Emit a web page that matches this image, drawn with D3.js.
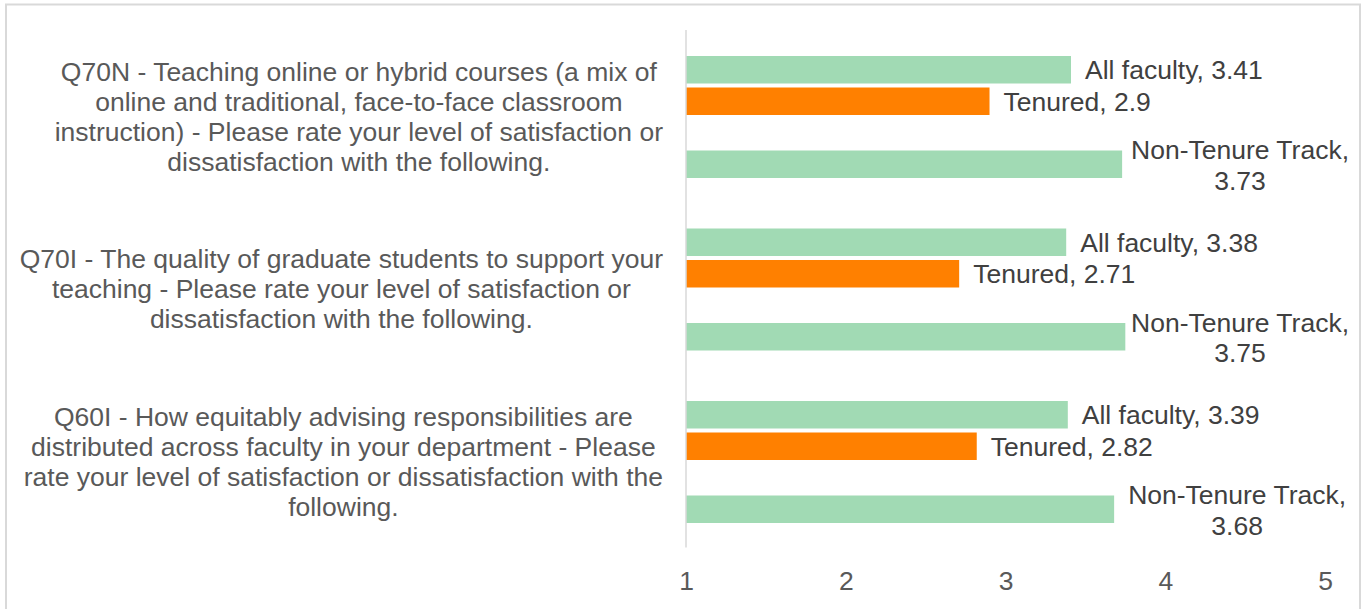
<!DOCTYPE html>
<html><head><meta charset="utf-8">
<script src="https://cdn.jsdelivr.net/npm/d3@7"></script>
<style>
html,body{margin:0;padding:0;background:#fff;}
svg{display:block;font-family:"Liberation Sans",Arial,sans-serif;}
</style></head>
<body>
<svg id="chart" width="1363" height="609"></svg>
<script>
// ---- data ----
const categories = [
  "Q70N - Teaching online or hybrid courses (a mix of|online and traditional, face-to-face classroom|instruction) - Please rate your level of satisfaction or|dissatisfaction with the following.",
  "Q70I - The quality of graduate students to support your|teaching - Please rate your level of satisfaction or|dissatisfaction with the following.",
  "Q60I - How equitably advising responsibilities are|distributed across faculty in your department - Please|rate your level of satisfaction or dissatisfaction with the|following."
];
const seriesNames = ["All faculty", "Tenured", "", "Non-Tenure Track"];
const allFaculty = [3.41, 3.38, 3.39];
const tenured = [2.9, 2.71, 2.82];
const emptySlot = [null, null, null];
const nonTenureTrack = [3.73, 3.75, 3.68];
const seriesValues = [allFaculty, tenured, emptySlot, nonTenureTrack];
const seriesColors = ["#a1dab4", "#ff8000", "#cccccc", "#a1dab4"];
const xTicks = [1, 2, 3, 4, 5];

// ---- layout ----
const FS = 26.5;
const svg = d3.select("#chart");
const plotLeft = 686, plotRight = 1325, plotTop = 30, plotBottom = 547.5;

// border
svg.append("rect").attr("x", 6).attr("y", 4.5).attr("width", 1354).attr("height", 620)
  .attr("fill", "none").attr("stroke", "#d9d9d9").attr("stroke-width", 2);

const x = d3.scaleLinear().domain([1, 5]).range([plotLeft, plotRight]);
const y0 = d3.scaleBand().domain(d3.range(categories.length)).range([plotTop, plotBottom]).padding(0);
const y1 = d3.scaleBand().domain(d3.range(seriesNames.length)).range([24, 150])
  .paddingInner(0.127).paddingOuter(0.0635);

function measure(str) {
  const tt = svg.append("text").attr("font-size", FS).text(str);
  const w = tt.node().getComputedTextLength(); tt.remove(); return w;
}

// bars
const g = svg.append("g");
categories.forEach((c, ci) => {
  seriesValues.forEach((vals, si) => {
    const v = vals[ci];
    if (v == null) return;
    const yy = y0(ci) + y1(si);
    g.append("rect")
      .attr("x", x(1)).attr("y", yy)
      .attr("width", x(v) - x(1)).attr("height", y1.bandwidth())
      .attr("fill", seriesColors[si]);
    // data label
    const label = seriesNames[si] + ", " + v;
    const cy = yy + y1.bandwidth() / 2;
    const t = g.append("text").attr("fill", "#404040").attr("font-size", FS);
    const w = measure(label);
    if (x(v) + 14 + w > 1300) {
      const parts = [seriesNames[si] + ",", String(v)];
      const w0 = measure(parts[0]);
      const left = Math.min(x(v) + 14, 1349 - w0);
      const cx = left + w0 / 2;
      t.attr("text-anchor", "middle");
      parts.forEach((p, k) => {
        t.append("tspan").attr("x", cx).attr("y", cy - 14.5 + k * 30.5).attr("dy", "0.35em").text(p);
      });
    } else {
      t.attr("x", x(v) + 14).attr("y", cy).attr("dy", "0.35em").text(label);
    }
  });
});

// vertical axis line
svg.append("line").attr("x1", x(1)).attr("x2", x(1)).attr("y1", plotTop).attr("y2", plotBottom)
  .attr("stroke", "#d9d9d9").attr("stroke-width", 1.5);

// x axis tick labels
const xAxis = d3.axisBottom(x).tickValues(xTicks).tickSize(0).tickPadding(0).tickFormat(d3.format("d"));
const ax = svg.append("g").attr("transform", `translate(0,${plotBottom})`).call(xAxis);
ax.select(".domain").remove();
ax.selectAll("text").attr("font-size", FS).attr("fill", "#595959")
  .attr("font-family", "'Liberation Sans', Arial, sans-serif").attr("y", 33).attr("dy", "0.35em");

// category labels
const labelRight = 663;
categories.forEach((c, ci) => {
  const lines = c.split("|");
  const t = svg.append("text").attr("font-size", FS).attr("fill", "#595959").attr("text-anchor", "middle");
  const maxW = d3.max(lines, measure);
  const cx = labelRight - maxW / 2;
  const cy = y0(ci) + y0.bandwidth() / 2;
  const lh = 30;
  lines.forEach((l, k) => {
    t.append("tspan").attr("x", cx).attr("y", cy + (k - (lines.length - 1) / 2) * lh)
      .attr("dy", "0.35em").text(l);
  });
});
</script>
</body></html>
